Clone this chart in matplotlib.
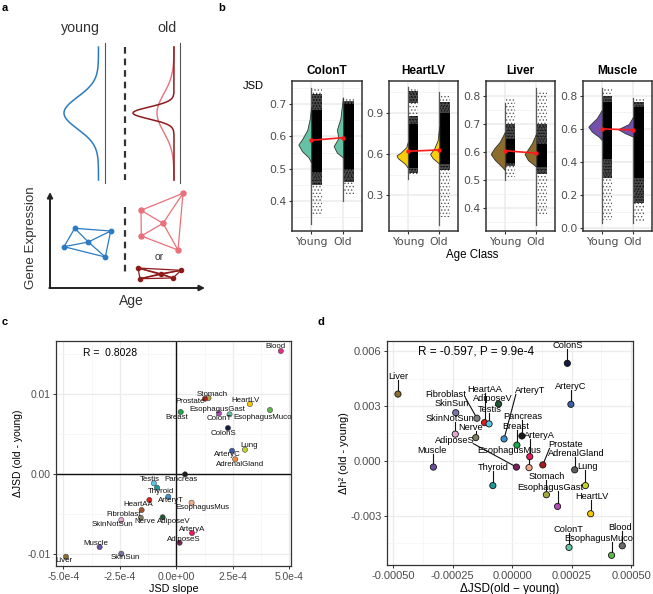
import numpy as np
import matplotlib
matplotlib.use("Agg")
import matplotlib.pyplot as plt

plt.rcParams['font.family'] = ['Liberation Sans', 'DejaVu Sans']
plt.rcParams['hatch.linewidth'] = 0.6

W, H = 653, 594
fig = plt.figure(figsize=(W / 100, H / 100), dpi=100)


def add_ax(l, t, r, b):
    return fig.add_axes([l / W, 1 - b / H, (r - l) / W, (b - t) / H])


def ftext(x, y, s, **kw):
    fig.text(x / W, 1 - y / H, s, **kw)


# ---------------- panel a (schematic) ----------------
blue_c, pink_c, dred_c = '#2B7BC4', '#E9717B', '#8E1B1B'
young_net = [(74.7, 228.3), (110.7, 231), (64, 246.7), (88.3, 242), (105.3, 257)]
young_edges = [(0, 1), (0, 2), (0, 3), (1, 3), (1, 4), (2, 3), (2, 4), (3, 4)]
old_net = [(141, 210.3), (183, 193.3), (163, 223.3), (141.3, 236), (178, 250)]
old_edges = [(0, 1), (1, 4), (4, 3), (3, 0), (0, 2), (1, 2), (3, 2), (4, 2)]
flat_net = [(138, 268), (181, 270.3), (160.7, 273.7), (140, 278.7), (173, 278)]
flat_edges = [(0, 1), (0, 2), (0, 3), (0, 4), (1, 2), (1, 4), (2, 3), (2, 4), (3, 4), (1, 3)]

axa = add_ax(0, 0, 210, 305)
axa.set_xlim(0, 210)
axa.set_ylim(305, 0)
axa.axis('off')
yy = np.linspace(47, 180, 400)
axa.plot(98.5 - 34.5 * np.exp(-(yy - 113) ** 2 / (2 * 16 ** 2)), yy, color=blue_c, lw=1.1)
axa.plot(174 - 17 * np.exp(-(yy - 113) ** 2 / (2 * 19 ** 2)), yy, color=pink_c, lw=1.0)
axa.plot(174 - 41 * np.exp(-(yy - 113) ** 2 / (2 * 6 ** 2)), yy, color=dred_c, lw=1.1)
for gx in (105, 180):
    axa.plot([gx, gx], [43, 183], color='#555555', lw=0.8)
axa.plot([125, 125], [47, 180], color='#333333', lw=1.6, dashes=(3, 2.2))
axa.plot([125, 125], [207, 272], color='#333333', lw=1.6, dashes=(3, 2.2))
for net, edges, col, ms in [(young_net, young_edges, blue_c, 3.2),
                            (old_net, old_edges, pink_c, 3.6),
                            (flat_net, flat_edges, dred_c, 3.0)]:
    for i, j in edges:
        axa.plot([net[i][0], net[j][0]], [net[i][1], net[j][1]], color=col, lw=0.9)
    axa.plot([p[0] for p in net], [p[1] for p in net], 'o', color=col, ms=ms)
axa.annotate('', xy=(50, 192), xytext=(50, 288),
             arrowprops=dict(arrowstyle='-|>', color='#222222', lw=1.4, mutation_scale=8, shrinkA=0, shrinkB=0))
axa.annotate('', xy=(205, 288), xytext=(49.3, 288),
             arrowprops=dict(arrowstyle='-|>', color='#222222', lw=1.4, mutation_scale=8, shrinkA=0, shrinkB=0))
ftext(80, 28, 'young', fontsize=10.3, ha='center', va='center', color='#333333')
ftext(167, 28, 'old', fontsize=10.3, ha='center', va='center', color='#333333')
ftext(159, 257.5, 'or', fontsize=7.5, ha='center', va='center', color='#333333')
ftext(31, 238, 'Gene Expression', fontsize=9.6, rotation=90, ha='center', va='center', color='#333333')
ftext(131, 301, 'Age', fontsize=10, ha='center', va='center', color='#333333')

# ---------------- panel b (violins) ----------------
b_tissues = ['ColonT', 'HeartLV', 'Liver', 'Muscle']
b_colors = ['#66C2A5', '#F9CD0A', '#8C6D2C', '#7250AC']
b_frames = [(292, 362), (389, 458), (486, 555), (583, 652)]
b_ylim = [(0.308, 0.771), (0.037, 1.134), (0.318, 0.854), (-0.018, 0.89)]
b_ticks = [[0.4, 0.5, 0.6, 0.7], [0.3, 0.6, 0.9], [0.4, 0.5, 0.6, 0.7, 0.8], [0.0, 0.2, 0.4, 0.6, 0.8]]
b_minor = [[0.35, 0.45, 0.55, 0.65, 0.75], [0.15, 0.45, 0.75, 1.05],
           [0.35, 0.45, 0.55, 0.65, 0.75, 0.85], [0.1, 0.3, 0.5, 0.7]]
age_groups = ['Young', 'Old']

# violin half-profiles (JSD value knots, half-width)
viol_y = {
    ('ColonT', 'Young'): [0.52, 0.535, 0.555, 0.575, 0.59, 0.62, 0.655, 0.69],
    ('ColonT', 'Old'): [0.535, 0.55, 0.57, 0.595, 0.62, 0.655, 0.72],
    ('HeartLV', 'Young'): [0.50, 0.53, 0.57, 0.59, 0.61, 0.65, 0.69],
    ('HeartLV', 'Old'): [0.53, 0.57, 0.60, 0.64, 0.70, 0.80],
    ('Liver', 'Young'): [0.536, 0.548, 0.571, 0.593, 0.613, 0.637, 0.672],
    ('Liver', 'Old'): [0.548, 0.571, 0.593, 0.607, 0.631, 0.667],
    ('Muscle', 'Young'): [0.533, 0.553, 0.584, 0.614, 0.63, 0.665, 0.715],
    ('Muscle', 'Old'): [0.553, 0.574, 0.598, 0.63, 0.675],
}
viol_w = {
    ('ColonT', 'Young'): [0, 0.08, 0.29, 0.40, 0.29, 0.12, 0.04, 0],
    ('ColonT', 'Old'): [0, 0.19, 0.29, 0.14, 0.19, 0.08, 0],
    ('HeartLV', 'Young'): [0, 0.10, 0.32, 0.36, 0.23, 0.05, 0],
    ('HeartLV', 'Old'): [0, 0.21, 0.29, 0.16, 0.05, 0],
    ('Liver', 'Young'): [0, 0.10, 0.31, 0.45, 0.34, 0.16, 0],
    ('Liver', 'Old'): [0, 0.26, 0.37, 0.28, 0.14, 0],
    ('Muscle', 'Young'): [0, 0.10, 0.32, 0.43, 0.35, 0.16, 0],
    ('Muscle', 'Old'): [0, 0.26, 0.48, 0.14, 0],
}
# data range, and point-cloud bands: (low, high, density level 0 sparse,1 medium,2 dense)
jsd_range = {
    ('ColonT', 'Young'): (0.33, 0.75), ('ColonT', 'Old'): (0.40, 0.72),
    ('HeartLV', 'Young'): (0.42, 1.09), ('HeartLV', 'Old'): (0.08, 1.05),
    ('Liver', 'Young'): (0.50, 0.775), ('Liver', 'Old'): (0.34, 0.83),
    ('Muscle', 'Young'): (0.03, 0.85), ('Muscle', 'Old'): (0.03, 0.79),
}
cloud_bands = {
    ('ColonT', 'Young'): [(0.36, 0.75, 0), (0.45, 0.73, 1), (0.49, 0.68, 2)],
    ('ColonT', 'Old'): [(0.42, 0.72, 0), (0.46, 0.71, 1), (0.50, 0.70, 2)],
    ('HeartLV', 'Young'): [(0.44, 1.08, 0), (0.46, 0.88, 1), (0.97, 1.06, 1), (0.50, 0.82, 2)],
    ('HeartLV', 'Old'): [(0.14, 1.03, 0), (0.48, 0.98, 1), (0.53, 0.90, 2)],
    ('Liver', 'Young'): [(0.51, 0.79, 0), (0.55, 0.70, 1), (0.56, 0.645, 2)],
    ('Liver', 'Old'): [(0.37, 0.82, 0), (0.52, 0.70, 1), (0.546, 0.63, 2)],
    ('Muscle', 'Young'): [(0.05, 0.84, 0), (0.30, 0.80, 1), (0.42, 0.76, 2)],
    ('Muscle', 'Old'): [(0.04, 0.78, 0), (0.15, 0.76, 1), (0.30, 0.73, 2)],
}
jsd_means = {'ColonT': [0.588, 0.596], 'HeartLV': [0.62, 0.63],
             'Liver': [0.605, 0.596], 'Muscle': [0.60, 0.594]}
band_style = [dict(hatch='.....', facecolor='none', edgecolor='#222222', alpha=0.7),
              dict(hatch='......', facecolor='#000000', edgecolor='#000000', alpha=0.7),
              dict(facecolor='#000000', edgecolor='none', alpha=1.0)]

tick_gray = '#4D4D4D'
for k, tis in enumerate(b_tissues):
    l, r = b_frames[k]
    ax = add_ax(l, 81, r, 231)
    ax.set_xlim(0.4, 2.6)
    ax.set_ylim(*b_ylim[k])
    ax.set_yticks(b_ticks[k])
    ax.set_yticklabels(['%.1f' % v for v in b_ticks[k]])
    ax.set_yticks(b_minor[k], minor=True)
    ax.set_xticks([1, 2])
    ax.set_xticklabels(age_groups)
    ax.grid(which='major', color='#EBEBEB', lw=1.1)
    ax.grid(which='minor', color='#F2F2F2', lw=0.6)
    ax.set_axisbelow(True)
    ax.tick_params(which='minor', length=0)
    ax.tick_params(which='major', length=2.5, width=0.8, color='#333333', pad=1.5)
    for lab in ax.get_xticklabels() + ax.get_yticklabels():
        lab.set_family('DejaVu Sans')
        lab.set_fontsize(7.8)
        lab.set_color(tick_gray)
    for sp in ax.spines.values():
        sp.set_color('#333333')
        sp.set_linewidth(1.1)
    for gi, grp in enumerate(age_groups):
        pos = gi + 1
        key = (tis, grp)
        for lo, hi, lev in cloud_bands[key]:
            ax.fill_betweenx([lo, hi], pos + 0.03, pos + 0.34, lw=0, **band_style[lev])
        lo, hi = jsd_range[key]
        ax.plot([pos, pos], [lo, hi], color='#5A5A5A', lw=0.9, zorder=3)
        vy = np.array(viol_y[key])
        vw = np.array(viol_w[key])
        ax.fill_betweenx(vy, pos - vw, pos, facecolor=b_colors[k], edgecolor='#333333',
                         lw=0.6, zorder=4)
    ax.plot([1, 2], jsd_means[tis], color='#FF1A1A', lw=1.2, marker='o', ms=2.2, zorder=6)
    ftext((l + r) / 2, 71, tis, fontsize=8.5, fontweight='bold', ha='center', va='center')

ftext(253.5, 86, 'JSD', fontsize=8, ha='center', va='center')
ftext(472, 255, 'Age Class', fontsize=8.3, ha='center', va='center')

# ---------------- panel c ----------------
c_tissues = ['Blood', 'Stomach', 'Prostate', 'HeartLV', 'EsophagusMuco', 'Breast', 'EsophagusGast',
             'ColonT', 'ColonS', 'Lung', 'ArteryC', 'AdrenalGland', 'Pancreas', 'Testis', 'Thyroid',
             'ArteryT', 'HeartAA', 'EsophagusMus', 'Fibroblast', 'Nerve', 'AdiposeV', 'SkinNotSun',
             'ArteryA', 'AdiposeS', 'Muscle', 'SkinSun', 'Liver']
c_slope = [4.62e-4, 1.42e-4, 1.26e-4, 3.25e-4, 4.14e-4, 0.19e-4, 1.88e-4,
           2.35e-4, 2.28e-4, 3.03e-4, 2.46e-4, 2.60e-4, 0.38e-4, -1.0e-4, -0.86e-4,
           -0.36e-4, -1.2e-4, 0.67e-4, -1.54e-4, -1.58e-4, -0.61e-4, -2.44e-4,
           0.69e-4, 0.14e-4, -3.40e-4, -2.44e-4, -4.89e-4]
c_djsd = [0.01538, 0.0095, 0.00941, 0.00875, 0.0080, 0.00775, 0.00759,
          0.00746, 0.00575, 0.00304, 0.00291, 0.00184, -0.00004, -0.00116, -0.00171,
          -0.00284, -0.00325, -0.00359, -0.0045, -0.00546, -0.00541, -0.00575,
          -0.00738, -0.00859, -0.00913, -0.00996, -0.01034]
tissue_colors = {
    'AdiposeS': '#7A1F5C', 'AdiposeV': '#1E5631', 'AdrenalGland': '#F58A3C', 'ArteryA': '#E8175D',
    'ArteryC': '#3C5DA8', 'ArteryT': '#3D8FD1', 'Blood': '#E7298A', 'Breast': '#1AA64A',
    'ColonS': '#141B41', 'ColonT': '#66C2A5', 'EsophagusGast': '#B14AB8', 'EsophagusMuco': '#5DB847',
    'EsophagusMus': '#F6A98A', 'Fibroblast': '#A0522D', 'HeartAA': '#E41A1C', 'HeartLV': '#F7C800',
    'Liver': '#8C6D2C', 'Lung': '#C5D42A', 'Muscle': '#6B4FA3', 'Nerve': '#7F7F5F',
    'Pancreas': '#1A1A1A', 'Prostate': '#A51C1C', 'SkinNotSun': '#E8A9D4', 'SkinSun': '#7876A8',
    'Stomach': '#A6A845', 'Testis': '#56C6E8', 'Thyroid': '#1A9A9A',
}
d_color_override = {'Blood': '#6B6B6B', 'AdrenalGland': '#5E5E5E', 'Fibroblast': '#7F7F7F'}
c_label_off = {  # label offsets in pixels (right, down)
    'Blood': (-5, -4), 'Stomach': (4, -4), 'Prostate': (-15, 3), 'HeartLV': (-4, -4),
    'EsophagusMuco': (-7, 7), 'Breast': (-4, 5), 'EsophagusGast': (-2, -4), 'ColonT': (-10, 4),
    'ColonS': (-4, 5), 'Lung': (4, -4), 'ArteryC': (-5, 4), 'AdrenalGland': (5, 5),
    'Pancreas': (-4, 5), 'Testis': (-4, -4), 'Thyroid': (4, 4), 'ArteryT': (3, 4),
    'HeartAA': (-11, 4), 'EsophagusMus': (11, 5), 'Fibroblast': (-18, 4), 'Nerve': (4, 4),
    'AdiposeV': (11, 4), 'SkinNotSun': (-9, 4), 'ArteryA': (0, -4), 'AdiposeS': (4, -3),
    'Muscle': (-4, -4), 'SkinSun': (4, 4), 'Liver': (-2, 4),
}


def style_gg(ax, fs):
    ax.grid(which='major', color='#EBEBEB', lw=0.9)
    ax.grid(which='minor', color='#F4F4F4', lw=0.5)
    ax.set_axisbelow(True)
    ax.tick_params(which='minor', length=0)
    ax.tick_params(which='major', length=2.5, width=0.7, color='#333333', pad=1.5,
                   labelsize=fs, labelcolor=tick_gray)
    for sp in ax.spines.values():
        sp.set_color('#333333')
        sp.set_linewidth(0.9)


axc = add_ax(56, 341, 291, 566)
axc.set_xlim(-5.33e-4, 5.07e-4)
axc.set_ylim(-0.0115, 0.01663)
axc.set_xticks([-5e-4, -2.5e-4, 0, 2.5e-4, 5e-4])
axc.set_xticklabels(['-5.0e-4', '-2.5e-4', '0.0e+00', '2.5e-4', '5.0e-4'])
axc.set_xticks([-3.75e-4, -1.25e-4, 1.25e-4, 3.75e-4], minor=True)
axc.set_yticks([-0.01, 0.0, 0.01])
axc.set_yticklabels(['-0.01', '0.00', '0.01'])
axc.set_yticks([-0.005, 0.005, 0.015], minor=True)
style_gg(axc, 7.4)
axc.axhline(0, color='#111111', lw=1.0, zorder=1)
axc.axvline(0, color='#111111', lw=1.0, zorder=1)
axc.scatter(c_slope, c_djsd, s=14, c=[tissue_colors[t] for t in c_tissues],
            edgecolors='#444444', linewidths=0.4, zorder=3)
for t, x, y in zip(c_tissues, c_slope, c_djsd):
    dx, dy = c_label_off[t]
    axc.annotate(t, (x, y), xytext=(dx, -dy), textcoords='offset pixels', ha='center',
                 va='center', fontsize=5.7, zorder=4, color='#111111')
axc.text(0.115, 0.945, 'R =  0.8028', transform=axc.transAxes, fontsize=7.5, ha='left', va='center')
axc.set_xlabel('JSD slope', fontsize=7.8, labelpad=1.5)
axc.set_ylabel('ΔJSD (old - young)', fontsize=7.5, labelpad=3)

# ---------------- panel d ----------------
d_tissues = ['Liver', 'SkinSun', 'Fibroblast', 'SkinNotSun', 'HeartAA', 'AdiposeV', 'Testis', 'Nerve',
             'ArteryT', 'Pancreas', 'Breast', 'AdiposeS', 'ArteryA', 'EsophagusMus', 'Thyroid', 'Muscle',
             'Prostate', 'AdrenalGland', 'Lung', 'Stomach', 'EsophagusGast', 'HeartLV', 'ColonT', 'Blood',
             'EsophagusMuco', 'ColonS', 'ArteryC']
d_djsd = [-4.80e-4, -2.37e-4, -1.48e-4, -2.39e-4, -1.16e-4, -0.57e-4, -0.97e-4, -1.53e-4,
          -0.34e-4, 0.41e-4, 0.20e-4, 0.18e-4, 0.74e-4, 0.71e-4, -0.81e-4, -3.31e-4,
          1.29e-4, 2.63e-4, 3.08e-4, 1.44e-4, 1.91e-4, 3.30e-4, 2.39e-4, 4.63e-4,
          4.18e-4, 2.32e-4, 2.47e-4]
d_dh2 = [0.00365, 0.00263, 0.00233, 0.00146, 0.00209, 0.00311, 0.00202, 0.00127,
         0.0012, 0.00136, 0.00086, -0.00034, 0.00023, -0.00037, -0.00135, -0.00034,
         -0.00022, -0.00049, -0.00135, -0.00185, -0.00249, -0.00289, -0.00473, -0.00464,
         -0.00516, 0.00533, 0.00309]
d_label_off = {  # label centre offsets in pixels (right, down)
    'Liver': (0, -18), 'SkinSun': (-4, -9), 'Fibroblast': (-31, -24), 'SkinNotSun': (-5, -16),
    'HeartAA': (0, -33), 'AdiposeV': (-6, -5), 'Testis': (1, -14), 'Nerve': (-5, -10),
    'ArteryT': (26, -48), 'Pancreas': (1, -19), 'Breast': (-1, -19), 'AdiposeS': (-62, -27),
    'ArteryA': (10, -21), 'EsophagusMus': (-20, -17), 'Thyroid': (0, -18), 'Muscle': (-1, -17),
    'Prostate': (23, -20), 'AdrenalGland': (2, -16), 'Lung': (2, -19), 'Stomach': (0, -18),
    'EsophagusGast': (-7, -19), 'HeartLV': (1, -17), 'ColonT': (-1, -18), 'Blood': (-2, -18),
    'EsophagusMuco': (-13, -17), 'ColonS': (0, -18), 'ArteryC': (0, -18),
}

axd = add_ax(387, 341, 633, 565)
axd.set_xlim(-5.26e-4, 5.08e-4)
axd.set_ylim(-0.00569, 0.00655)
axd.set_xticks([-5e-4, -2.5e-4, 0, 2.5e-4, 5e-4])
axd.set_xticklabels(['-0.00050', '-0.00025', '0.00000', '0.00025', '0.00050'])
axd.set_xticks([-3.75e-4, -1.25e-4, 1.25e-4, 3.75e-4], minor=True)
axd.set_yticks([-0.003, 0.0, 0.003, 0.006])
axd.set_yticklabels(['-0.003', '0.000', '0.003', '0.006'])
axd.set_yticks([-0.0045, -0.0015, 0.0015, 0.0045], minor=True)
style_gg(axd, 8.0)
d_cols = [d_color_override.get(t, tissue_colors[t]) for t in d_tissues]
axd.scatter(d_djsd, d_dh2, s=20, c=d_cols, edgecolors='#111111', linewidths=0.6, zorder=3)
d_texts = []
for t, x, y in zip(d_tissues, d_djsd, d_dh2):
    dx, dy = d_label_off[t]
    tx = axd.annotate(t, (x, y), xytext=(dx, -dy), textcoords='offset pixels', ha='center',
                      va='center', fontsize=6.7, zorder=5)
    d_texts.append(tx)
axd.text(0.125, 0.955, 'R = -0.597, P = 9.9e-4', transform=axd.transAxes, fontsize=8.5,
         ha='left', va='center')
axd.set_xlabel('ΔJSD(old − young)', fontsize=8.5, labelpad=1.5)
axd.set_ylabel('Δh² (old - young)', fontsize=7.8, labelpad=1)

# repel-style segments from point to label box
fig.canvas.draw()
renderer = fig.canvas.get_renderer()
inv = axd.transData.inverted()
for tx, x, y in zip(d_texts, d_djsd, d_dh2):
    bb = tx.get_window_extent(renderer)
    px, py = axd.transData.transform((x, y))
    cx = min(max(px, bb.x0 + 1), bb.x1 - 1)
    cy = min(max(py, bb.y0 + 1), bb.y1 - 1)
    dist = np.hypot(cx - px, cy - py)
    if dist > 6:
        p0 = inv.transform((px, py))
        p1 = inv.transform((cx, cy))
        axd.plot([p0[0], p1[0]], [p0[1], p1[1]], color='#111111', lw=0.8, zorder=2)

# panel letters
for s, x, y in [('a', 5, 8), ('b', 222, 8), ('c', 5, 322), ('d', 321, 322)]:
    ftext(x, y, s, fontsize=8, fontweight='bold', ha='center', va='center')

fig.savefig('out.png', dpi=100)
